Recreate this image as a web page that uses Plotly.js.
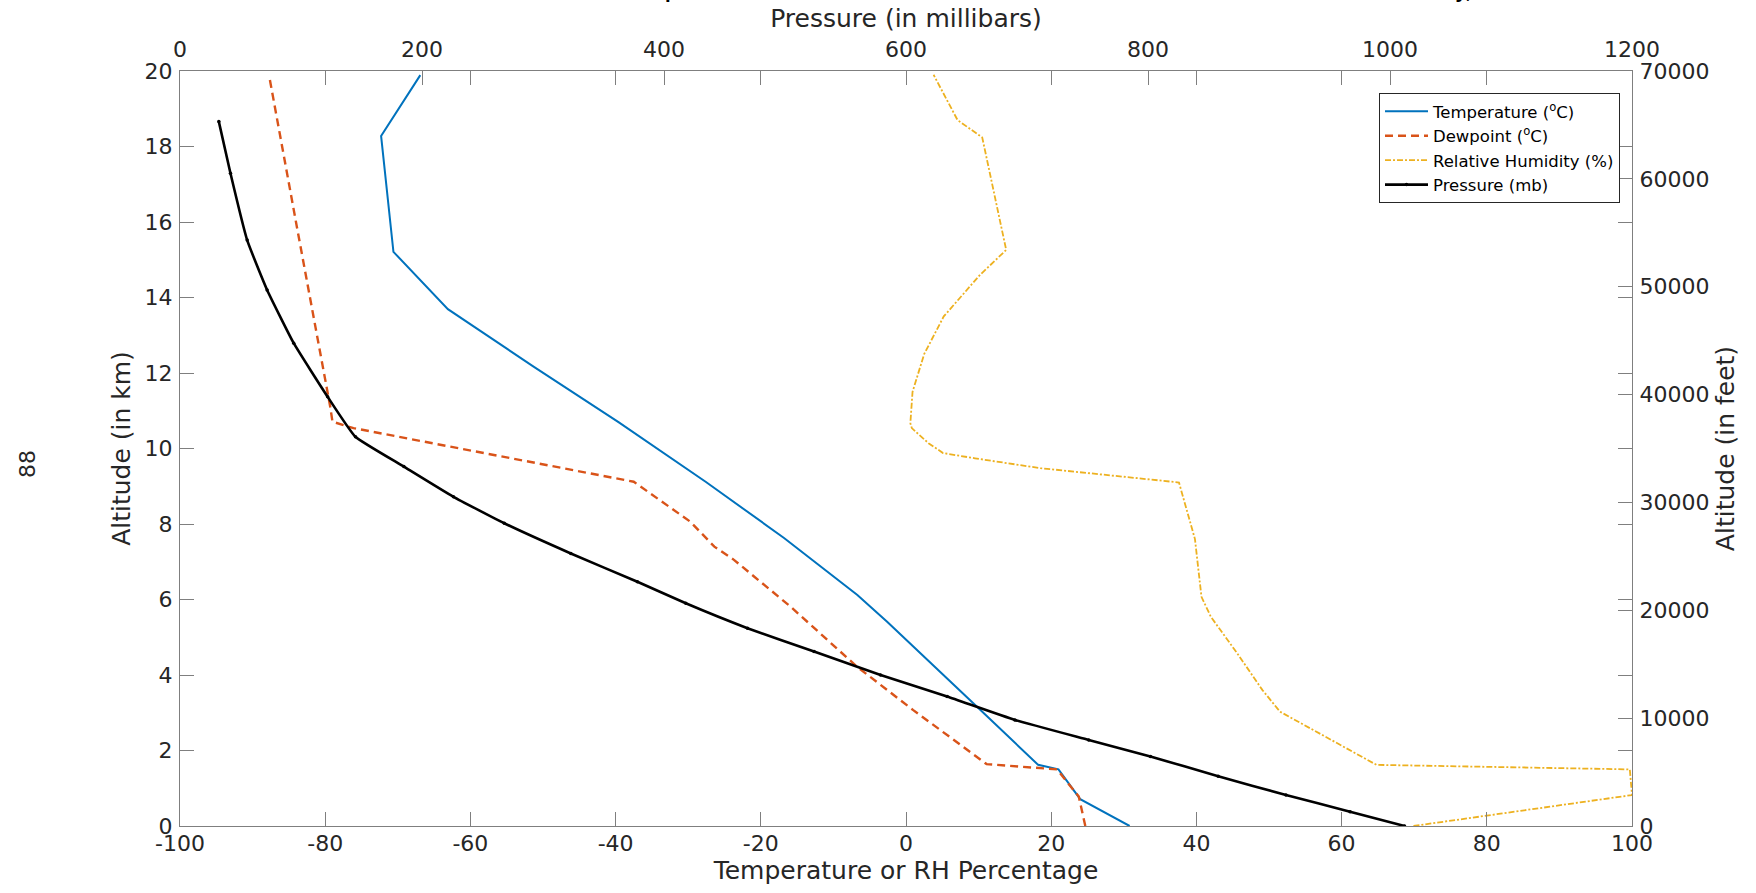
<!DOCTYPE html>
<html>
<head>
<meta charset="utf-8">
<script src="https://cdn.plot.ly/plotly-3.0.1.min.js"></script>
<style>
html, body { margin: 0; padding: 0; background: #ffffff; }
#chart { width: 1756px; height: 893px; }
</style>
</head>
<body>
<div id="chart"></div>
<script>
// ---- Data ----
// Temperature (deg C) vs altitude (km)
const tempAlt = [0, 0.71, 1.50, 1.62, 3.12, 5.41, 6.12, 7.63, 9.12, 10.70, 12.17, 13.69, 15.21, 18.28, 19.89];
const tempVal = [30.8, 24.0, 21.0, 18.2, 10.0, -2.6, -6.7, -16.8, -27.6, -39.6, -51.3, -63.1, -70.6, -72.3, -66.9];

// Dewpoint (deg C) vs altitude (km)
const dewAlt = [0, 0.78, 1.50, 1.64, 3.07, 4.22, 5.81, 7.05, 7.40, 8.06, 9.12, 10.54, 10.71, 11.10, 15.87, 19.85];
const dewVal = [24.7, 23.8, 20.8, 11.1, 1.0, -6.75, -15.9, -23.7, -26.4, -29.7, -37.5, -76.1, -79.0, -79.3, -83.9, -87.7];

// Relative humidity (%) vs altitude (km)
const rhAlt = [0, 0.82, 1.50, 1.62, 3.03, 3.60, 4.58, 5.54, 6.07, 7.60, 9.10, 9.48, 9.74, 9.88, 10.14, 10.54, 10.67, 11.50, 12.50, 13.50, 14.60, 15.26, 18.24, 18.70, 19.90];
const rhVal = [69.9, 100, 99.7, 64.8, 51.5, 49.1, 45.6, 42.0, 40.7, 39.8, 37.6, 18.5, 9.5, 5.1, 3.1, 0.8, 0.6, 0.9, 2.5, 5.2, 10.2, 13.8, 10.5, 7.1, 3.8];

// Pressure (mb) vs altitude (km)
const presAlt = [0, 0.38, 0.82, 1.32, 1.84, 2.28, 2.81, 3.43, 4.00, 4.62, 5.24, 5.90, 6.47, 7.22, 8.02, 8.72, 9.52, 10.31, 11.37, 12.79, 14.20, 15.52, 17.29, 18.66];
const presVal = [1012, 967, 914, 858, 802, 751, 690, 634, 579, 524, 469, 418, 378, 323, 268, 226, 185, 145, 122, 94, 72, 55.5, 41.7, 32.1];

// Tick labels
const xTickVals = [-100, -80, -60, -40, -20, 0, 20, 40, 60, 80, 100];
const xTickText = ['-100', '-80', '-60', '-40', '-20', '0', '20', '40', '60', '80', '100'];
const x2TickVals = [0, 200, 400, 600, 800, 1000, 1200];
const yTickVals = [0, 2, 4, 6, 8, 10, 12, 14, 16, 18, 20];
const y2TickVals = [0, 10000, 20000, 30000, 40000, 50000, 60000, 70000];

const seriesNames = ['Temperature (<sup>o</sup>C)', 'Dewpoint (<sup>o</sup>C)', 'Relative Humidity (%)', 'Pressure (mb)'];
const seriesColors = ['#0072BD', '#D95319', '#EDB120', '#000000'];

// ---- Layout geometry ----
const W = 1756, H = 893;
const M = { l: 180, r: 124, t: 71, b: 67 };
const plotW = W - M.l - M.r, plotH = H - M.t - M.b;
const px2x = p => (p - M.l) / plotW;
const px2y = p => (H - M.b - p) / plotH;

const FONT = '"DejaVu Sans", Verdana, sans-serif';
const TFONT = '"Liberation Sans", Arial, Helvetica, sans-serif';
const TXT = '#262626';
const AX = '#7f7f7f';

const traces = [
  { x: tempVal, y: tempAlt, name: seriesNames[0], type: 'scatter', mode: 'lines',
    line: { color: seriesColors[0], width: 2 }, xaxis: 'x', yaxis: 'y' },
  { x: dewVal, y: dewAlt, name: seriesNames[1], type: 'scatter', mode: 'lines',
    line: { color: seriesColors[1], width: 2.4, dash: '8px,5px' }, xaxis: 'x', yaxis: 'y' },
  { x: rhVal, y: rhAlt, name: seriesNames[2], type: 'scatter', mode: 'lines',
    line: { color: seriesColors[2], width: 1.8, dash: '6px,2px,2px,2px' }, xaxis: 'x', yaxis: 'y' },
  { x: presVal, y: presAlt, name: seriesNames[3], type: 'scatter', mode: 'lines+markers',
    line: { color: seriesColors[3], width: 2.6, shape: 'spline', smoothing: 0.4 },
    marker: { color: seriesColors[3], size: 3.5, symbol: 'circle' },
    xaxis: 'x2', yaxis: 'y' },
  { x: [], y: [], type: 'scatter', mode: 'lines', showlegend: false, hoverinfo: 'skip',
    xaxis: 'x', yaxis: 'y2' }
];

const tickFont = { family: FONT, size: 22, color: TXT };
const titleFont = { family: FONT, size: 25, color: TXT };

const layout = {
  width: W, height: H,
  margin: M,
  paper_bgcolor: '#ffffff', plot_bgcolor: '#ffffff',
  font: { family: FONT, color: TXT },
  showlegend: true,
  legend: {
    x: px2x(1620), y: px2y(93), xanchor: 'right', yanchor: 'top',
    bgcolor: '#ffffff', bordercolor: '#262626', borderwidth: 1,
    font: { family: FONT, size: 16.5, color: '#000000' },
    tracegroupgap: 0, itemwidth: 43
  },
  xaxis: {
    range: [-100, 100], tickmode: 'array', tickvals: xTickVals, ticktext: xTickText,
    ticks: 'inside', ticklen: 14, tickcolor: AX, tickwidth: 1,
    showline: true, linecolor: AX, linewidth: 1, mirror: 'ticks',
    showgrid: false, zeroline: false, tickfont: tickFont, ticklabelstandoff: -2,
    title: { text: 'Temperature or RH Percentage', font: titleFont, standoff: 5 },
    fixedrange: true
  },
  xaxis2: {
    range: [0, 1200], tickmode: 'array', tickvals: x2TickVals, overlaying: 'x', side: 'top', anchor: 'y',
    ticks: 'inside', ticklen: 14, tickcolor: AX, tickwidth: 1,
    showline: true, linecolor: AX, linewidth: 1,
    showgrid: false, zeroline: false, tickfont: tickFont, ticklabelstandoff: 4,
    title: { text: 'Pressure (in millibars)', font: titleFont, standoff: 2 },
    fixedrange: true
  },
  yaxis: {
    range: [0, 20], tickmode: 'array', tickvals: yTickVals,
    ticks: 'inside', ticklen: 14, tickcolor: AX, tickwidth: 1,
    showline: true, linecolor: AX, linewidth: 1, mirror: 'ticks',
    showgrid: false, zeroline: false, tickfont: tickFont, ticklabelstandoff: 2,
    title: { text: 'Altitude (in km)', font: titleFont, standoff: 6 },
    fixedrange: true
  },
  yaxis2: {
    range: [0, 70000], tickmode: 'array', tickvals: y2TickVals, tickformat: 'd',
    overlaying: 'y', side: 'right', anchor: 'x',
    ticks: 'inside', ticklen: 14, tickcolor: AX, tickwidth: 1,
    showline: true, linecolor: AX, linewidth: 1,
    showgrid: false, zeroline: false, tickfont: tickFont, ticklabelstandoff: 2,
    title: { text: 'Altitude (in feet)', font: titleFont, standoff: 8 },
    fixedrange: true
  },
  annotations: [
    { text: '88', xref: 'paper', yref: 'paper', x: px2x(27), y: px2y(464),
      xanchor: 'center', yanchor: 'middle', textangle: -90, showarrow: false,
      font: { family: FONT, size: 22, color: TXT } },
    { text: '<b>Vertical Atmospheric Conditions Measured above the National Weather Service Office on Monday,</b>',
      xref: 'paper', yref: 'paper', x: px2x(522), y: px2y(4),
      xanchor: 'left', yanchor: 'bottom', showarrow: false,
      font: { family: TFONT, size: 20.4, color: '#000000' } }
  ]
};

Plotly.newPlot('chart', traces, layout, { displayModeBar: false, staticPlot: true });
</script>
</body>
</html>
